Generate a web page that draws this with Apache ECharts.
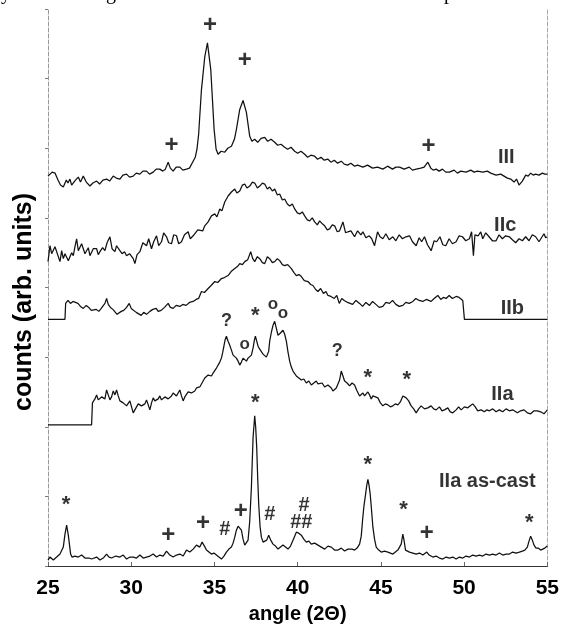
<!DOCTYPE html>
<html>
<head>
<meta charset="utf-8">
<script src="https://cdn.jsdelivr.net/npm/echarts@6/dist/echarts.min.js"></script>
<style>
html,body{margin:0;padding:0;background:#fff;}
#chart{width:562px;height:629px;}
</style>
</head>
<body>
<div id="chart"></div>
<script>
// ---- axis ticks ----
const xTicks = [25, 30, 35, 40, 45, 50, 55];

// ---- series values: [angle (2θ), counts (arb. units, offset traces)] ----
const curveIII = [
[25.0,392],[25.12,393],[25.25,396],[25.42,395],[25.6,388],[25.75,383],[25.92,381],[26.1,388],[26.2,385],[26.32,389],
[26.42,383],[26.52,382],[26.65,388],[26.82,391],[26.95,386],[27.12,392],[27.3,386],[27.52,382],[27.7,385],[27.92,387],
[28.1,384],[28.3,388],[28.52,389],[28.7,387],[28.92,392],[29.1,390],[29.32,389],[29.5,393],[29.72,394],[29.9,391],
[30.12,392],[30.3,395],[30.52,394],[30.7,397],[30.92,397],[31.1,394],[31.32,396],[31.5,399],[31.72,399],[31.9,397],
[32.05,399],[32.22,406],[32.35,400],[32.52,397],[32.7,401],[32.92,401],[33.1,398],[33.32,399],[33.5,400],[33.72,407],
[33.85,411],[33.95,419],[34.05,434],[34.22,479],[34.42,512],[34.58,526],[34.78,499],[34.98,439],[35.1,419],[35.22,414],
[35.4,417],[35.62,416],[35.8,420],[36.02,422],[36.2,429],[36.32,439],[36.52,459],[36.72,468],[36.92,456],[37.12,432],
[37.25,427],[37.42,429],[37.6,426],[37.8,430],[38.02,431],[38.2,427],[38.4,429],[38.62,426],[38.8,423],[39.0,424],
[39.22,421],[39.4,419],[39.6,421],[39.82,417],[40.0,415],[40.2,417],[40.42,414],[40.6,411],[40.8,413],[41.02,412],
[41.2,409],[41.4,411],[41.6,408],[41.82,409],[42.0,406],[42.2,408],[42.4,405],[42.62,407],[42.8,404],[43.0,403],
[43.2,405],[43.42,402],[43.6,403],[43.92,401],[44.2,403],[44.5,400],[44.8,401],[45.12,399],[45.4,402],[45.7,399],
[45.9,401],[46.12,401],[46.4,399],[46.7,401],[46.9,398],[47.12,399],[47.4,400],[47.6,401],[47.82,406],[48.0,400],
[48.15,398],[48.32,399],[48.5,397],[48.7,399],[48.9,396],[49.12,396],[49.4,398],[49.6,395],[49.8,397],[50.12,396],
[50.4,398],[50.6,396],[50.8,397],[51.12,396],[51.4,397],[51.6,395],[51.92,393],[52.2,394],[52.4,392],[52.6,390],
[52.8,389],[53.0,386],[53.15,389],[53.3,383],[53.37,382],[53.5,387],[53.7,393],[53.85,392],[54.0,395],[54.15,393],
[54.3,394],[54.5,393],[54.7,395],[54.85,394],[55.0,394]
];

const curveIIc = [
[25.0,306],[25.12,322],[25.22,314],[25.32,312],[25.42,321],[25.52,319],[25.62,311],[25.72,306],[25.82,317],[25.92,309],
[26.02,314],[26.12,316],[26.22,307],[26.32,309],[26.42,315],[26.52,312],[26.62,321],[26.72,329],[26.82,317],[26.92,319],
[27.02,324],[27.12,326],[27.22,314],[27.32,316],[27.42,320],[27.52,312],[27.72,319],[27.92,319],[28.02,313],[28.12,316],
[28.28,320],[28.42,317],[28.55,325],[28.72,331],[28.85,319],[29.02,316],[29.12,322],[29.32,317],[29.45,314],[29.6,316],
[29.72,312],[29.9,314],[30.12,309],[30.22,304],[30.35,313],[30.52,316],[30.7,325],[30.92,322],[31.05,329],[31.22,319],
[31.35,326],[31.52,332],[31.65,322],[31.82,326],[31.95,335],[32.12,331],[32.25,325],[32.42,324],[32.55,333],[32.72,332],
[32.85,324],[33.02,326],[33.2,333],[33.42,336],[33.55,329],[33.72,332],[33.82,331],[34.0,338],[34.12,339],[34.3,337],
[34.42,342],[34.62,346],[34.82,352],[35.02,354],[35.15,351],[35.32,359],[35.45,357],[35.62,366],[35.82,372],[36.02,376],
[36.22,379],[36.35,375],[36.52,377],[36.68,383],[36.82,384],[36.95,380],[37.12,382],[37.28,386],[37.42,385],[37.58,380],
[37.72,382],[37.88,385],[38.02,384],[38.18,379],[38.32,381],[38.48,377],[38.62,379],[38.78,373],[38.92,374],[39.08,368],
[39.22,369],[39.38,364],[39.52,362],[39.68,364],[39.82,359],[39.98,355],[40.12,354],[40.28,356],[40.42,352],[40.58,348],
[40.72,347],[40.88,350],[41.02,346],[41.18,343],[41.32,347],[41.48,344],[41.62,342],[41.78,338],[41.92,339],[42.08,343],
[42.22,342],[42.38,336],[42.52,337],[42.72,346],[42.88,335],[43.02,336],[43.2,337],[43.42,331],[43.6,337],[43.8,333],
[43.92,336],[44.1,330],[44.3,332],[44.45,329],[44.62,322],[44.8,336],[44.95,331],[45.12,329],[45.3,334],[45.5,328],
[45.72,331],[45.9,327],[46.1,333],[46.3,329],[46.5,331],[46.72,332],[46.9,326],[47.12,322],[47.3,330],[47.45,326],
[47.62,331],[47.8,323],[48.02,317],[48.2,327],[48.35,326],[48.55,331],[48.72,323],[48.9,322],[49.1,329],[49.3,324],
[49.52,326],[49.7,332],[49.9,331],[50.1,327],[50.32,329],[50.45,336],[50.56,312],[50.65,333],[50.85,332],[51.0,336],
[51.12,329],[51.3,335],[51.5,331],[51.7,327],[51.92,327],[52.1,333],[52.3,329],[52.5,332],[52.72,331],[52.9,328],
[53.1,325],[53.3,329],[53.5,327],[53.7,331],[53.9,327],[54.1,333],[54.3,331],[54.5,326],[54.65,330],[54.8,334],
[54.9,330],[55.0,331]
];

const curveIIb = [
[25.0,248],[26.02,248],[26.06,264],[26.2,267],[26.35,264],[26.5,266],[26.62,267],[26.8,264],[26.95,261],[27.12,259],
[27.3,262],[27.45,260],[27.6,257],[27.72,256],[27.9,258],[28.05,256],[28.2,259],[28.32,261],[28.42,264],[28.52,269],
[28.62,263],[28.75,260],[28.9,258],[29.02,256],[29.15,253],[29.25,252],[29.4,256],[29.55,257],[29.72,260],[29.88,264],
[30.0,259],[30.12,257],[30.3,255],[30.42,256],[30.6,252],[30.75,255],[30.92,253],[31.12,256],[31.3,258],[31.5,259],
[31.62,256],[31.8,257],[32.0,260],[32.12,261],[32.22,264],[32.35,260],[32.52,259],[32.7,262],[32.92,261],[33.1,263],
[33.3,262],[33.5,265],[33.72,266],[33.9,268],[34.05,269],[34.22,276],[34.4,275],[34.62,279],[34.8,282],[35.02,286],
[35.2,285],[35.42,289],[35.6,290],[35.82,292],[36.0,296],[36.22,299],[36.38,301],[36.52,304],[36.68,303],[36.82,306],
[37.0,308],[37.18,316],[37.3,309],[37.42,306],[37.58,311],[37.72,309],[37.88,305],[38.02,304],[38.18,311],[38.32,309],
[38.48,305],[38.62,306],[38.78,309],[38.92,307],[39.08,303],[39.22,302],[39.4,303],[39.62,299],[39.78,295],[39.92,292],
[40.08,293],[40.22,291],[40.4,287],[40.62,286],[40.78,283],[40.92,282],[41.08,278],[41.22,276],[41.38,279],[41.55,274],
[41.7,276],[41.82,272],[42.0,271],[42.2,269],[42.35,272],[42.5,264],[42.65,269],[42.8,267],[43.0,265],[43.12,266],
[43.3,263],[43.5,267],[43.72,264],[43.9,261],[44.1,265],[44.32,262],[44.5,266],[44.7,263],[44.9,260],[45.12,261],
[45.3,265],[45.52,264],[45.7,267],[45.9,263],[46.1,261],[46.32,262],[46.5,265],[46.7,264],[46.92,266],[47.1,269],
[47.3,267],[47.52,266],[47.72,268],[48.02,266],[48.2,269],[48.42,272],[48.6,268],[48.75,270],[48.92,269],[49.1,272],
[49.3,269],[49.52,271],[49.7,270],[49.92,267],[50.0,266],[50.02,248],[55.0,248]
];

const curveIIa = [
[25.0,142],[27.62,142],[27.67,164],[27.72,164],[27.82,168],[27.92,172],[28.02,167],[28.12,166],[28.22,170],[28.32,171],
[28.42,168],[28.52,177],[28.62,172],[28.72,167],[28.82,170],[28.92,176],[29.02,172],[29.12,177],[29.22,171],[29.32,166],
[29.42,168],[29.52,164],[29.62,166],[29.72,161],[29.82,163],[29.92,166],[30.02,160],[30.12,154],[30.22,157],[30.32,159],
[30.42,163],[30.52,164],[30.62,161],[30.72,159],[30.82,163],[30.92,167],[31.02,162],[31.12,157],[31.22,164],[31.32,169],
[31.42,166],[31.52,164],[31.62,168],[31.72,171],[31.82,167],[31.92,166],[32.02,170],[32.12,172],[32.22,168],[32.32,166],
[32.42,171],[32.52,174],[32.62,172],[32.72,171],[32.82,174],[32.92,177],[33.02,171],[33.12,166],[33.22,170],[33.32,172],
[33.42,175],[33.52,177],[33.62,174],[33.72,172],[33.82,176],[33.92,179],[34.02,177],[34.12,180],[34.22,182],[34.32,186],
[34.42,189],[34.52,187],[34.62,192],[34.72,193],[34.82,191],[34.92,194],[35.02,196],[35.12,199],[35.22,201],[35.32,205],
[35.42,209],[35.5,215],[35.58,222],[35.65,228],[35.72,231],[35.82,226],[35.92,222],[36.02,217],[36.12,212],[36.22,211],
[36.32,209],[36.42,206],[36.52,202],[36.62,205],[36.72,209],[36.82,207],[36.92,206],[37.02,209],[37.12,207],[37.22,212],
[37.32,219],[37.4,227],[37.46,231],[37.54,226],[37.62,221],[37.72,218],[37.82,216],[37.92,213],[38.02,211],[38.12,210],
[38.18,209],[38.26,216],[38.32,226],[38.42,235],[38.52,242],[38.62,246],[38.72,239],[38.82,232],[38.95,234],[39.05,236],
[39.12,237],[39.22,233],[39.32,226],[39.42,215],[39.52,206],[39.62,200],[39.72,196],[39.82,194],[39.92,191],[40.07,189],
[40.22,187],[40.37,188],[40.52,184],[40.67,186],[40.82,182],[40.97,184],[41.12,186],[41.22,183],[41.32,181],[41.47,184],
[41.62,180],[41.72,179],[41.82,182],[41.92,184],[42.02,179],[42.12,176],[42.22,178],[42.32,179],[42.42,183],[42.52,187],
[42.62,196],[42.72,191],[42.82,186],[42.97,184],[43.12,181],[43.27,184],[43.42,182],[43.57,176],[43.72,171],[43.82,173],
[43.92,174],[44.02,171],[44.12,171],[44.22,175],[44.32,172],[44.42,168],[44.52,171],[44.67,170],[44.82,169],[44.97,164],
[45.12,161],[45.27,163],[45.42,162],[45.57,160],[45.72,161],[45.87,163],[46.02,162],[46.17,165],[46.32,171],[46.42,172],
[46.52,169],[46.67,166],[46.82,161],[46.97,158],[47.12,154],[47.27,158],[47.42,161],[47.62,158],[47.82,159],[48.02,161],
[48.17,158],[48.32,157],[48.52,160],[48.67,156],[48.82,157],[49.02,159],[49.17,155],[49.32,154],[49.52,157],[49.67,160],
[49.82,157],[50.02,160],[50.22,159],[50.37,161],[50.52,163],[50.67,160],[50.82,156],[51.02,157],[51.22,155],[51.37,157],
[51.52,156],[51.72,158],[51.92,155],[52.12,157],[52.32,155],[52.52,158],[52.72,156],[52.92,157],[53.2,154],[53.4,156],
[53.6,157],[53.8,154],[54.0,153],[54.2,156],[54.4,156],[54.6,155],[54.8,153],[54.9,155],[55.0,157]
];

const curveAsCast = [
[25.0,6],[25.12,9],[25.22,7],[25.32,6],[25.42,8],[25.52,9],[25.62,8],[25.72,12],[25.82,14],[25.92,19],
[26.02,32],[26.12,41],[26.22,31],[26.3,20],[26.36,12],[26.44,9],[26.52,7],[26.62,10],[26.72,12],[26.82,9],
[26.92,9],[27.02,11],[27.12,11],[27.22,8],[27.32,6],[27.47,8],[27.62,7],[27.72,7],[27.92,9],[28.12,6],
[28.32,8],[28.52,12],[28.67,9],[28.82,8],[28.92,7],[29.07,10],[29.32,9],[29.52,11],[29.72,7],[29.92,9],
[30.12,9],[30.32,8],[30.52,11],[30.72,8],[30.92,9],[31.12,10],[31.32,12],[31.52,9],[31.72,11],[31.92,10],
[32.12,15],[32.32,11],[32.52,9],[32.72,11],[32.92,12],[33.12,10],[33.32,16],[33.52,14],[33.72,17],[33.92,21],
[34.12,19],[34.26,24],[34.4,20],[34.52,16],[34.67,14],[34.82,12],[34.97,13],[35.12,11],[35.27,9],[35.42,7],
[35.57,10],[35.72,14],[35.87,17],[36.02,19],[36.12,23],[36.22,29],[36.32,36],[36.42,40],[36.52,39],[36.62,36],
[36.72,27],[36.82,21],[36.92,23],[37.02,26],[37.12,45],[37.22,79],[37.32,129],[37.42,151],[37.48,139],[37.54,119],
[37.6,88],[37.66,62],[37.74,40],[37.82,29],[37.92,24],[38.02,22],[38.14,26],[38.26,31],[38.38,26],[38.52,22],
[38.67,20],[38.82,17],[38.97,19],[39.12,21],[39.27,19],[39.42,17],[39.57,20],[39.72,26],[39.82,30],[39.92,34],
[40.07,33],[40.22,31],[40.37,27],[40.52,24],[40.67,25],[40.82,22],[41.02,23],[41.22,21],[41.42,19],[41.62,17],
[41.82,20],[42.02,19],[42.22,16],[42.42,16],[42.62,18],[42.82,15],[43.02,17],[43.12,19],[43.27,17],[43.42,16],
[43.57,18],[43.72,22],[43.82,30],[43.9,46],[43.98,60],[44.08,72],[44.15,81],[44.22,87],[44.29,81],[44.36,72],
[44.44,56],[44.52,39],[44.62,27],[44.72,19],[44.87,16],[45.02,14],[45.22,15],[45.42,14],[45.57,13],[45.72,12],
[45.87,14],[46.02,16],[46.12,18],[46.22,22],[46.32,32],[46.4,25],[46.48,16],[46.6,15],[46.72,14],[46.92,13],
[47.12,12],[47.32,13],[47.52,11],[47.64,12],[47.76,14],[47.9,11],[48.12,9],[48.32,10],[48.52,8],[48.72,7],
[48.92,9],[49.12,8],[49.32,9],[49.52,7],[49.72,9],[49.92,8],[50.12,10],[50.32,9],[50.52,11],[50.72,10],
[50.92,11],[51.12,10],[51.32,12],[51.52,11],[51.72,12],[51.92,11],[52.12,13],[52.32,11],[52.52,12],[52.72,12],
[52.92,14],[53.12,13],[53.32,14],[53.5,15],[53.65,16],[53.8,19],[53.9,25],[54.0,30],[54.1,26],[54.2,21],
[54.32,18],[54.45,18],[54.6,16],[54.72,17],[54.85,18],[55.0,20]
];

// ---- phase markers: [angle, counts, symbol] ----
const marksIII = [[34.74,545,'+'],[36.82,509,'+'],[32.42,424,'+'],[47.86,423,'+']];
const marksIIa = [[35.72,246,'?'],[36.82,222,'o'],[37.46,256,'*'],[38.52,262,'o'],[39.12,253,'o'],
                  [42.38,216,'?'],[44.22,194,'*'],[46.56,192,'*']];
const marksAsCast = [[26.08,66,'*'],[32.22,32,'+'],[34.32,44,'+'],[35.62,37,'#'],[36.58,56,'+'],
                     [37.46,169,'*'],[38.32,52,'#'],[40.38,61,'#'],[40.22,44,'##'],[44.22,107,'*'],
                     [46.36,61,'*'],[47.76,34,'+'],[53.92,48,'*']];
// ---- trace labels: [angle, counts, text] ----
const traceLabels = [[52.53,411,'III'],[52.47,342,'IIc'],[52.9,259,'IIb'],[52.3,172,'IIa'],[51.4,85,'IIa as-cast']];

// ---- build chart ----
const markStyle = {
  '+': {fontSize: 24, offset: [0, 1]},
  '*': {fontSize: 22, offset: [0, 5]},
  'o': {fontSize: 17, offset: [0, -1]},
  '?': {fontSize: 18, offset: [0, 0]},
  '#': {fontSize: 20, offset: [0, 0]},
  '##': {fontSize: 20, offset: [0, 0]}
};
function markData(list){
  return list.map(m => ({
    value: [m[0], m[1]], name: m[2],
    label: {fontSize: markStyle[m[2]].fontSize, offset: markStyle[m[2]].offset}
  }));
}
const allMarks = markData(marksIII.concat(marksIIa, marksAsCast));
const labelData = traceLabels.map(t => ({value: [t[0], t[1]], name: t[2]}));

const lineStyle = {color: '#111', width: 1.25};
function curve(name, data){
  return {name, type: 'line', data, showSymbol: false, symbol: 'none',
          lineStyle, itemStyle: {color: '#111'}, silent: true, z: 3};
}
const font = 'Liberation Sans, Arial, Helvetica, sans-serif';
const serif = '20px Liberation Serif, serif';

const chart = echarts.init(document.getElementById('chart'), null, {renderer: 'canvas'});
chart.setOption({
  animation: false,
  backgroundColor: '#fff',
  grid: {left: 48, right: 14, top: 9, bottom: 60, containLabel: false},
  xAxis: [{
    type: 'value', min: 25, max: 55, interval: 5,
    name: 'angle (2\u0398)', nameLocation: 'middle', nameGap: 38,
    nameTextStyle: {fontFamily: font, fontWeight: 'bold', fontSize: 20, color: '#000'},
    axisLine: {show: true, lineStyle: {color: '#999', type: 'dashed', width: 1}},
    axisTick: {show: true, inside: true, length: 4, lineStyle: {color: '#666'}},
    axisLabel: {show: true, margin: 12, fontFamily: font, fontWeight: 'bold', fontSize: 21, color: '#000',
                formatter: v => xTicks.indexOf(v) >= 0 ? String(v) : ''},
    splitLine: {show: false}
  }, {
    type: 'value', min: 25, max: 55, position: 'top',
    axisLine: {show: true, lineStyle: {color: '#333', width: 1}},
    axisTick: {show: false}, axisLabel: {show: false}, splitLine: {show: false}
  }],
  yAxis: [{
    type: 'value', min: 0, max: 560, interval: 70, position: 'left',
    axisLine: {show: true, lineStyle: {color: '#999', type: 'dashed', width: 1}},
    axisTick: {show: true, inside: false, length: 3, lineStyle: {color: '#777'}},
    axisLabel: {show: false}, splitLine: {show: false}
  }, {
    type: 'value', min: 0, max: 560, position: 'right',
    axisLine: {show: true, lineStyle: {color: '#aaa', type: 'dashed', width: 1}},
    axisTick: {show: false}, axisLabel: {show: false}, splitLine: {show: false}
  }],
  graphic: [
    {type: 'text', x: 24, y: 302, rotation: Math.PI / 2, silent: true,
     style: {text: 'counts (arb. units)', fill: '#000', font: 'bold 25px ' + font,
             textAlign: 'center', textVerticalAlign: 'middle', align: 'center', verticalAlign: 'middle'}},
    {type: 'text', x: 1, y: 4, silent: true,
     style: {text: 'y', fill: '#000', font: serif, verticalAlign: 'bottom', textVerticalAlign: 'bottom'}},
    {type: 'text', x: 96, y: 4, silent: true,
     style: {text: 'ng', fill: '#000', font: serif, verticalAlign: 'bottom', textVerticalAlign: 'bottom'}},
    {type: 'text', x: 444, y: 4, silent: true,
     style: {text: 'p', fill: '#000', font: serif, verticalAlign: 'bottom', textVerticalAlign: 'bottom'}}
  ],
  series: [
    curve('III', curveIII),
    curve('IIc', curveIIc),
    curve('IIb', curveIIb),
    curve('IIa', curveIIa),
    curve('IIa as-cast', curveAsCast),
    {
      name: 'markers', type: 'scatter', data: allMarks, symbolSize: 0, silent: true, z: 4,
      label: {show: true, position: 'inside', formatter: '{b}', color: '#000',
              fontFamily: font, fontWeight: 'bold'}
    },
    {
      name: 'labels', type: 'scatter', data: labelData, symbolSize: 0, silent: true, z: 4,
      label: {show: true, position: 'inside', formatter: '{b}', color: '#000',
              fontFamily: font, fontWeight: 'bold', fontSize: 20}
    }
  ]
});
</script>
</body>
</html>
